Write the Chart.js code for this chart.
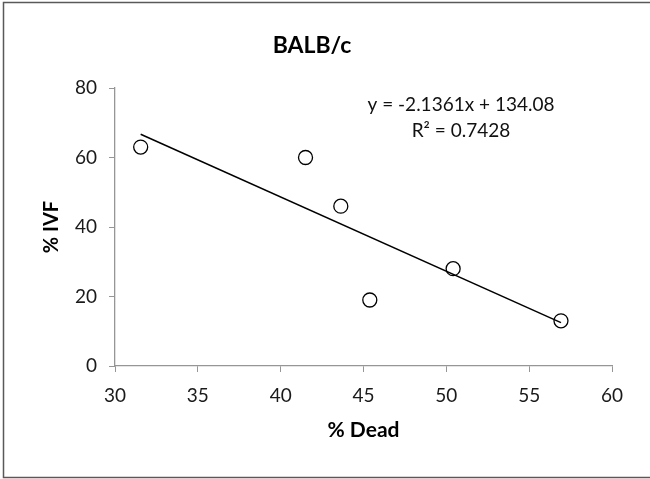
<!DOCTYPE html>
<html>
<head>
<meta charset="utf-8">
<script src="https://cdn.jsdelivr.net/npm/chart.js@4.4.0/dist/chart.umd.min.js"></script>
<style>
  html, body { margin: 0; padding: 0; background: #fff; }
  canvas { display: block; }
</style>
</head>
<body>
<canvas id="chart" width="650" height="479"></canvas>
<script>
// data
const deadPct = [31.55, 41.5, 43.63, 45.38, 50.41, 56.92];
const ivfPct = [63, 60, 46, 19, 28, 13];

// trendline as printed on the chart
const slope = -2.1361;
const intercept = 134.08;
const eqLines = ['y = -2.1361x + 134.08', 'R\u00b2 = 0.7428'];
const chartTitle = 'BALB/c';

const points = deadPct.map((x, i) => ({ x: x, y: ivfPct[i] }));
const xLo = Math.min(...deadPct);
const xHi = Math.max(...deadPct);
const trend = [xLo, xHi].map(x => ({ x: x, y: slope * x + intercept }));

const FONT = 'Lato, "Open Sans", sans-serif';
Chart.defaults.font.family = FONT;

// frame, title and equation text
const extras = {
    id: 'extras',
    afterDraw(chart) {
        const ctx = chart.ctx;
        ctx.save();
        ctx.strokeStyle = '#595959';
        ctx.lineWidth = 1.5;
        ctx.strokeRect(3.5, 2.5, 660, 475);

        ctx.fillStyle = '#000';
        ctx.textAlign = 'center';
        ctx.textBaseline = 'middle';
        ctx.font = 'bold 23px ' + FONT;
        ctx.fillText(chartTitle, 312, 46);

        ctx.font = '19px ' + FONT;
        ctx.fillStyle = '#111';
        ctx.fillText(eqLines[0], 461, 105);
        ctx.fillText(eqLines[1], 461, 131);
        ctx.restore();
    }
};

const axisGray = '#969696';
const tickColor = '#1a1a1a';

new Chart(document.getElementById('chart').getContext('2d'), {
    type: 'scatter',
    data: {
        datasets: [
            {
                label: 'Trend',
                data: trend,
                showLine: true,
                borderColor: '#000',
                borderWidth: 1.5,
                pointRadius: 0,
                fill: false
            },
            {
                label: '% IVF',
                data: points,
                pointStyle: 'circle',
                pointRadius: 7,
                pointBorderWidth: 1.3,
                borderColor: '#000',
                backgroundColor: 'rgba(0,0,0,0)'
            }
        ]
    },
    options: {
        responsive: false,
        animation: false,
        layout: { padding: { top: 88, right: 38, left: 0, bottom: 0 } },
        plugins: {
            legend: { display: false },
            tooltip: { enabled: false }
        },
        scales: {
            x: {
                type: 'linear',
                min: 30,
                max: 60,
                ticks: { stepSize: 5, color: tickColor, font: { size: 19 }, padding: 12 },
                grid: { drawOnChartArea: false, drawTicks: true, tickLength: 6, color: axisGray },
                border: { display: true, color: axisGray, width: 1.3 },
                title: {
                    display: true,
                    text: '% Dead',
                    color: '#000',
                    font: { size: 21, weight: 'bold' },
                    padding: { top: 0, bottom: 36 }
                },
                afterFit: s => { s.height = 113; }
            },
            y: {
                type: 'linear',
                min: 0,
                max: 80,
                ticks: { stepSize: 20, color: tickColor, font: { size: 19 }, padding: 12 },
                grid: { drawOnChartArea: false, drawTicks: true, tickLength: 6, color: axisGray },
                border: { display: true, color: axisGray, width: 1.3 },
                title: {
                    display: true,
                    text: '% IVF',
                    color: '#000',
                    font: { size: 20, weight: 'bold' },
                    padding: { top: 40, bottom: 0 }
                },
                afterFit: s => { s.width = 115; }
            }
        }
    },
    plugins: [extras]
});
</script>
</body>
</html>
